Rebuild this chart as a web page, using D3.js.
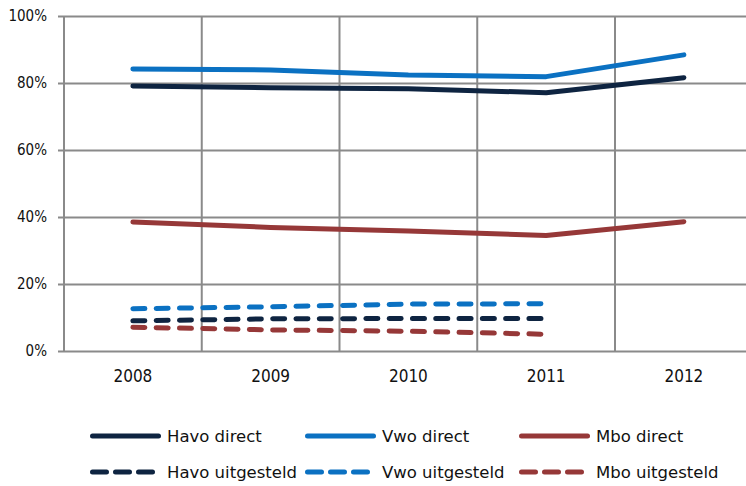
<!DOCTYPE html>
<html><head><meta charset="utf-8">
<script src="https://cdn.jsdelivr.net/npm/d3@7"></script>
<style>
body{margin:0;background:#fff;}
svg text{fill:#111;}
</style></head>
<body><svg id="c" width="746" height="486"></svg>
<script>
const years = ["2008","2009","2010","2011","2012"];
const yTicks = [0,20,40,60,80,100];
const havoDirect = [79.1,78.6,78.3,77.1,81.6];
const vwoDirect = [84.2,83.9,82.4,81.9,88.4];
const mboDirect = [38.5,36.9,35.8,34.5,38.6];
const havoUitgesteld = [9.0,9.6,9.7,9.7];
const vwoUitgesteld = [12.6,13.2,14.0,14.1];
const mboUitgesteld = [7.1,6.3,5.9,5.0];
const seriesNames = ["Havo direct","Vwo direct","Mbo direct","Havo uitgesteld","Vwo uitgesteld","Mbo uitgesteld"];

(function(){
const colors = {havo:"#0e2441", vwo:"#0b71c2", mbo:"#963838"};
const series = [
  {name:seriesNames[0], values:havoDirect, color:colors.havo, dashed:false},
  {name:seriesNames[1], values:vwoDirect, color:colors.vwo, dashed:false},
  {name:seriesNames[2], values:mboDirect, color:colors.mbo, dashed:false},
  {name:seriesNames[3], values:havoUitgesteld, color:colors.havo, dashed:true},
  {name:seriesNames[4], values:vwoUitgesteld, color:colors.vwo, dashed:true},
  {name:seriesNames[5], values:mboUitgesteld, color:colors.mbo, dashed:true}
];

const svg = d3.select("#c");
const mLeft=64, mRight=752.75, mTop=16, mBottom=351;
const x = d3.scaleBand().domain(years).range([mLeft,mRight]);
const y = d3.scaleLinear().domain([0,100]).range([mBottom,mTop]);
const grid="#8a8a8a";
const condensed = '"DejaVu Sans Condensed","DejaVu Sans",sans-serif';
const regular = '"DejaVu Sans",sans-serif';

const yAxis = d3.axisLeft(y).tickValues(yTicks).tickFormat(d=>d+"%").tickSize(-(mRight-mLeft)).tickPadding(17);
const gy = svg.append("g").attr("transform",`translate(${mLeft},0)`).call(yAxis);
gy.select(".domain").remove();
gy.selectAll(".tick line").attr("stroke",grid).attr("stroke-width",2).attr("x1",-6);
gy.selectAll(".tick text").attr("font-size",15).attr("font-family",condensed).attr("fill","#111");

const bounds = years.map(d=>x(d)).concat([mRight]);
svg.append("g").selectAll("line").data(bounds).join("line")
  .attr("x1",d=>d).attr("x2",d=>d).attr("y1",mTop).attr("y2",mBottom)
  .attr("stroke",grid).attr("stroke-width",2);

const xAxis = d3.axisBottom(x).tickSize(0).tickPadding(19);
const gx = svg.append("g").attr("transform",`translate(0,${mBottom})`).call(xAxis);
gx.select(".domain").remove();
gx.selectAll(".tick text").attr("font-size",17).attr("font-family",condensed).attr("fill","#111");

const line = d3.line().x((d,i)=>x(years[i])+x.bandwidth()/2).y(d=>y(d));
series.forEach(s=>{
  svg.append("path").datum(s.values).attr("d",line)
    .attr("fill","none").attr("stroke",s.color).attr("stroke-width",5)
    .attr("stroke-linecap","round").attr("stroke-linejoin","round")
    .attr("stroke-dasharray",s.dashed?"12,11.3":null);
});

const legX=[90,305,519], legY=[436,472];
series.forEach((s,i)=>{
  const cx=legX[i%3], cy=legY[Math.floor(i/3)];
  svg.append("line").attr("x1",cx+2.5).attr("x2",cx+(s.dashed?62.5:68.5)).attr("y1",cy).attr("y2",cy)
    .attr("stroke",s.color).attr("stroke-width",5).attr("stroke-linecap","round")
    .attr("stroke-dasharray",s.dashed?"14,9":null);
  svg.append("text").attr("x",cx+77).attr("y",cy).attr("dy","0.36em")
    .attr("font-size",16.5).attr("font-family",regular).text(s.name);
});
})();
</script></body></html>
